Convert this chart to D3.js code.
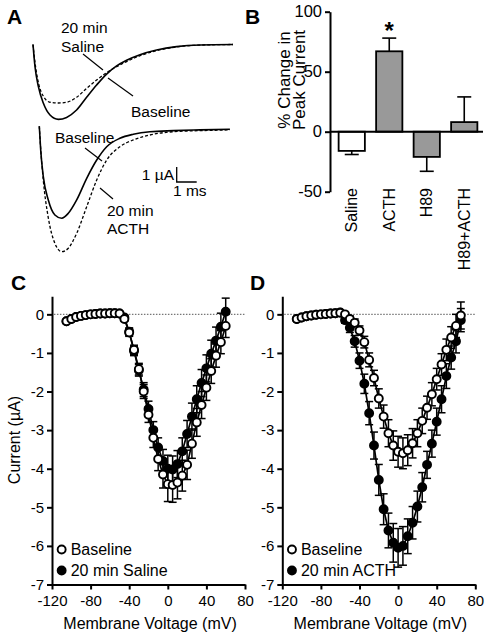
<!DOCTYPE html>
<html><head><meta charset="utf-8">
<script src="https://cdn.jsdelivr.net/npm/d3@7/dist/d3.min.js"></script>
<style>
html,body{margin:0;padding:0;background:#fff;}
svg{display:block;font-family:"Liberation Sans",Arial,Helvetica,sans-serif;}
</style></head>
<body>
<svg id="fig" width="491" height="637"></svg>
<script>
// ---------- Panel A: current traces (ms, µA) ----------
const tTop = [0, 0.1, 0.27, 0.52, 0.85, 1.27, 1.68, 2.18, 2.68, 3.18, 3.68, 4.18, 4.68, 5.35, 6.18, 7.18, 8.35, 10.0];
const topBaseline = [0, -1.48, -2.81, -3.92, -4.70, -4.99, -4.86, -4.37, -3.52, -2.70, -1.97, -1.43, -1.05, -0.68, -0.37, -0.14, -0.03, 0];
const topSaline = [0, -1.2, -2.55, -3.45, -3.85, -3.90, -3.85, -3.52, -2.92, -2.37, -1.88, -1.48, -1.14, -0.75, -0.41, -0.16, -0.04, 0];
const tBot = [0, 0.07, 0.2, 0.45, 0.78, 1.12, 1.45, 1.87, 2.37, 2.87, 3.37, 4.03, 4.7, 5.53, 6.7, 8.03, 9.53];
const botBaseline = [0.2, -1.38, -3.16, -4.71, -5.71, -5.93, -5.6, -4.71, -3.27, -2.05, -1.16, -0.6, -0.33, -0.16, -0.09, -0.04, 0];
const botACTH = [0.2, -1.3, -3.4, -5.9, -7.6, -8.16, -7.93, -6.93, -5.16, -3.38, -2.05, -1.16, -0.71, -0.38, -0.16, -0.09, -0.04];

// ---------- Panel B: % change in peak current ----------
const bCategories = ["Saline", "ACTH", "H89", "H89+ACTH"];
const bValues = [-16, 67, -21, 8];
const bErrors = [3, 11, 12, 21];
const bFills = ["#ffffff", "#999999", "#999999", "#999999"];
const bTicks = [-50, 0, 50, 100];

// ---------- Panel C: I-V, saline ----------
const voltsC = [-105,-100,-95,-90,-85,-80,-75,-70,-65,-60,-55,-50,-45,-40,-35,-30,-25,-20,-15,-10,-5,0,5,10,15,20,25,30,35,40,45,50,55,60];
const cBaseline = [-0.18,-0.12,-0.07,-0.04,-0.02,0.00,0.01,0.02,0.02,0.03,0.03,0.02,
  -0.12,-0.47,-0.92,-1.42,-2.00,-2.60,-3.20,-3.75,-4.15,-4.40,-4.42,-4.36,-4.18,-3.90,-3.35,-2.80,-2.35,-1.90,-1.47,-1.07,-0.72,-0.30];
const cBaselineErr = [0.02,0.02,0.02,0.02,0.02,0.02,0.02,0.02,0.02,0.02,0.02,0.02,
  0.06,0.1,0.12,0.15,0.18,0.2,0.25,0.3,0.35,0.45,0.45,0.42,0.4,0.38,0.38,0.36,0.35,0.33,0.32,0.3,0.3,0.3];
const cSaline = [-0.18,-0.12,-0.07,-0.04,-0.02,0.00,0.01,0.02,0.02,0.03,0.03,0.02,
  -0.08,-0.45,-0.95,-1.45,-1.95,-2.45,-3.00,-3.45,-3.80,-4.00,-4.02,-3.88,-3.55,-3.10,-2.65,-2.20,-1.78,-1.40,-1.02,-0.68,-0.32,0.07];
const cSalineErr = [0.02,0.02,0.02,0.02,0.02,0.02,0.02,0.02,0.02,0.02,0.02,0.02,
  0.06,0.1,0.12,0.15,0.18,0.2,0.22,0.25,0.3,0.35,0.35,0.35,0.35,0.35,0.35,0.35,0.35,0.35,0.35,0.35,0.35,0.35];

// ---------- Panel D: I-V, ACTH ----------
const voltsD = [-105,-100,-95,-90,-85,-80,-75,-70,-65,-60,-55,-50,-45,-40,-35,-30,-25,-20,-15,-10,-5,0,5,10,15,20,25,30,35,40,45,50,55,60,65];
const dBaseline = [-0.12,-0.08,-0.05,-0.03,-0.01,0.00,0.01,0.02,0.03,0.04,
  0.00,-0.12,-0.22,-0.42,-0.72,-1.18,-1.65,-2.18,-2.65,-3.08,-3.40,-3.56,-3.60,-3.52,-3.34,-3.08,-2.76,-2.42,-2.07,-1.68,-1.30,-0.92,-0.60,-0.30,-0.03];
const dBaselineErr = [0.02,0.02,0.02,0.02,0.02,0.02,0.02,0.02,0.02,0.02,
  0.04,0.08,0.1,0.12,0.15,0.18,0.2,0.25,0.3,0.35,0.38,0.4,0.4,0.4,0.38,0.35,0.33,0.3,0.3,0.28,0.28,0.28,0.28,0.3,0.35];
const dACTH = [-0.12,-0.08,-0.05,-0.03,-0.01,0.00,0.01,0.02,0.03,0.05,
  -0.15,-0.35,-0.70,-1.20,-1.80,-2.56,-3.40,-4.29,-5.05,-5.60,-5.92,-6.05,-6.00,-5.75,-5.40,-4.98,-4.48,-3.90,-3.35,-2.78,-2.20,-1.60,-1.12,-0.70,-0.15];
const dACTHErr = [0.02,0.02,0.02,0.02,0.02,0.02,0.02,0.02,0.02,0.02,
  0.08,0.12,0.15,0.2,0.25,0.3,0.35,0.4,0.4,0.45,0.5,0.5,0.5,0.45,0.42,0.4,0.38,0.35,0.35,0.35,0.35,0.32,0.3,0.3,0.3];

const ivXTicks = [-120, -80, -40, 0, 40, 80];
const ivYTicks = [-7, -6, -5, -4, -3, -2, -1, 0];

// ================= drawing =================
const svg = d3.select("#fig");
svg.append("rect").attr("width", 491).attr("height", 637).attr("fill", "#fff");
const FONT = '"Liberation Sans",Arial,Helvetica,sans-serif';

function panelLetter(t, x, y) {
  svg.append("text").attr("x", x).attr("y", y).text(t)
    .attr("font-size", 21).attr("font-weight", "bold").attr("fill", "#000");
}
panelLetter("A", 7, 24);
panelLetter("B", 245, 24);
panelLetter("C", 11, 290);
panelLetter("D", 250, 290);

// ---------- Panel A ----------
(function () {
  const g = svg.append("g");
  const xT = d3.scaleLinear().domain([0, 10]).range([33, 233]);
  const yT = d3.scaleLinear().domain([-5, 0]).range([119.5, 44.5]);
  const xB = d3.scaleLinear().domain([0, 10]).range([39.3, 239.3]);
  const yB = d3.scaleLinear().domain([-8, 0]).range([249.3, 129.3]);
  const mk = (xs, ys, tArr, iArr) => d3.line().curve(d3.curveMonotoneX)
    .x((d, i) => xs(tArr[i])).y(d => ys(d))(iArr);

  g.append("path").attr("d", mk(xT, yT, tTop, topBaseline)).attr("fill", "none")
    .attr("stroke", "#000").attr("stroke-width", 1.6);
  g.append("path").attr("d", mk(xT, yT, tTop, topSaline)).attr("fill", "none")
    .attr("stroke", "#000").attr("stroke-width", 1.3).attr("stroke-dasharray", "3,2");
  g.append("path").attr("d", mk(xB, yB, tBot, botBaseline)).attr("fill", "none")
    .attr("stroke", "#000").attr("stroke-width", 1.6);
  g.append("path").attr("d", mk(xB, yB, tBot, botACTH)).attr("fill", "none")
    .attr("stroke", "#000").attr("stroke-width", 1.3).attr("stroke-dasharray", "3,2");

  const lab = (t, x, y) => g.append("text").attr("x", x).attr("y", y).text(t)
    .attr("font-size", 15.5).attr("fill", "#000");
  lab("20 min", 61, 33); lab("Saline", 61, 52);
  lab("Baseline", 131, 117);
  lab("Baseline", 55, 143);
  lab("20 min", 107, 216); lab("ACTH", 107, 234);
  const ld = (x1, y1, x2, y2) => g.append("line").attr("x1", x1).attr("y1", y1)
    .attr("x2", x2).attr("y2", y2).attr("stroke", "#000").attr("stroke-width", 1.2);
  ld(83, 54, 103, 70);
  ld(108, 78, 133, 96);
  ld(85, 148, 102, 161);
  ld(100, 188, 113, 199);
  const sx = 176.7, sy = 182;
  g.append("polyline")
    .attr("points", `${sx},${sy - (yB(-1) - yB(0))} ${sx},${sy} ${sx + (xB(1) - xB(0))},${sy}`)
    .attr("fill", "none").attr("stroke", "#000").attr("stroke-width", 1.3);
  g.append("text").attr("x", 174).attr("y", 180).attr("text-anchor", "end")
    .attr("font-size", 15.5).text("1 \u00b5A");
  g.append("text").attr("x", 173).attr("y", 196)
    .attr("font-size", 15.5).text("1 ms");
})();

// ---------- Panel B ----------
(function () {
  const g = svg.append("g");
  const y = d3.scaleLinear().domain([-50, 100]).range([191.7, 11.7]);
  const x = d3.scaleBand().domain(bCategories).range([333, 483]).paddingInner(0.3).paddingOuter(0.15);
  const axisX = 330;
  bCategories.forEach((c, i) => {
    const v = bValues[i], e = bErrors[i];
    const cx = x(c) + x.bandwidth() / 2;
    const yEnd = y(v + Math.sign(v) * e);
    g.append("line").attr("x1", cx).attr("x2", cx).attr("y1", y(v)).attr("y2", yEnd)
      .attr("stroke", "#000").attr("stroke-width", 1.6);
    g.append("line").attr("x1", cx - 7).attr("x2", cx + 7).attr("y1", yEnd).attr("y2", yEnd)
      .attr("stroke", "#000").attr("stroke-width", 1.6);
    g.append("rect").attr("x", x(c)).attr("width", x.bandwidth())
      .attr("y", Math.min(y(v), y(0))).attr("height", Math.abs(y(v) - y(0)))
      .attr("fill", bFills[i]).attr("stroke", "#000").attr("stroke-width", 1.8);
  });
  g.append("line").attr("x1", axisX).attr("x2", 483).attr("y1", y(0)).attr("y2", y(0))
    .attr("stroke", "#000").attr("stroke-width", 2);
  const ax = g.append("g").attr("transform", `translate(${axisX},0)`)
    .call(d3.axisLeft(y).tickValues(bTicks).tickFormat(d => String(d)).tickSize(5).tickSizeOuter(0).tickPadding(3));
  ax.select(".domain").attr("stroke-width", 2);
  ax.selectAll(".tick line").attr("stroke-width", 2);
  ax.selectAll("text").attr("font-size", 16.5).attr("font-family", FONT).attr("fill", "#000");
  g.append("text").attr("transform", "translate(290,80) rotate(-90)").attr("text-anchor", "middle")
    .attr("font-size", 17).text("% Change in");
  g.append("text").attr("transform", "translate(305,80) rotate(-90)").attr("text-anchor", "middle")
    .attr("font-size", 17).text("Peak Current");
  bCategories.forEach(c => {
    const cx = x(c) + x.bandwidth() / 2;
    g.append("text").attr("transform", `translate(${cx + 5.5},188) rotate(-90)`)
      .attr("text-anchor", "end").attr("font-size", 16).text(c);
  });
  g.append("text").attr("x", x("ACTH") + x.bandwidth() / 2).attr("y", 39)
    .attr("text-anchor", "middle").attr("font-size", 24).attr("font-weight", "bold").text("*");
})();

// ---------- I-V panels ----------
function ivPanel(opts) {
  const g = svg.append("g");
  const x = d3.scaleLinear().domain([-120, 80]).range([opts.left, opts.left + 193]);
  const y = d3.scaleLinear().domain([-7, 0.47]).range([584.5, 296.2]);
  g.append("line").attr("x1", x(-118)).attr("x2", x(80)).attr("y1", y(0)).attr("y2", y(0))
    .attr("stroke", "#777").attr("stroke-width", 1.2).attr("stroke-dasharray", "1.5,1.5");
  const ay = g.append("g").attr("transform", `translate(${opts.left},0)`)
    .call(d3.axisLeft(y).tickValues(ivYTicks).tickFormat(d => String(d)).tickSize(5).tickSizeOuter(0).tickPadding(3));
  const axx = g.append("g").attr("transform", `translate(0,${y(-7)})`)
    .call(d3.axisBottom(x).tickValues(ivXTicks).tickFormat(d => String(d)).tickSize(5).tickSizeOuter(0).tickPadding(6));
  [ay, axx].forEach(a => {
    a.select(".domain").attr("stroke-width", 2);
    a.selectAll(".tick line").attr("stroke-width", 2);
    a.selectAll("text").attr("font-size", 15).attr("font-family", FONT).attr("fill", "#000");
  });
  g.append("text").attr("x", opts.left + 98).attr("y", 629).attr("text-anchor", "middle")
    .attr("font-size", 16).text("Membrane Voltage (mV)");

  const series = [
    { v: opts.volts, y: opts.treat, e: opts.treatErr, filled: true },
    { v: opts.volts, y: opts.base, e: opts.baseErr, filled: false }
  ];
  series.forEach(s => {
    const pts = s.v.map((v, i) => ({ v, i: s.y[i], e: s.e[i] }));
    g.append("path").datum(pts)
      .attr("d", d3.line().x(d => x(d.v)).y(d => y(d.i)))
      .attr("fill", "none").attr("stroke", "#000").attr("stroke-width", 1.7);
    const eb = g.append("g");
    pts.forEach(d => {
      const y1 = y(d.i + d.e), y2 = y(d.i - d.e), cx = x(d.v);
      eb.append("line").attr("x1", cx).attr("x2", cx).attr("y1", y1).attr("y2", y2)
        .attr("stroke", "#000").attr("stroke-width", 1.5);
      [y1, y2].forEach(yy => eb.append("line").attr("x1", cx - 4).attr("x2", cx + 4)
        .attr("y1", yy).attr("y2", yy).attr("stroke", "#000").attr("stroke-width", 1.5));
    });
    g.append("g").selectAll("circle").data(pts).join("circle")
      .attr("cx", d => x(d.v)).attr("cy", d => y(d.i)).attr("r", 4)
      .attr("fill", s.filled ? "#000" : "#fff").attr("stroke", "#000").attr("stroke-width", 1.9);
  });
  const lx = x(-110), ly1 = 549.5, ly2 = 570.5;
  g.append("circle").attr("cx", lx).attr("cy", ly1).attr("r", 4).attr("fill", "#fff")
    .attr("stroke", "#000").attr("stroke-width", 1.9);
  g.append("circle").attr("cx", lx).attr("cy", ly2).attr("r", 4).attr("fill", "#000")
    .attr("stroke", "#000").attr("stroke-width", 1.9);
  g.append("text").attr("x", lx + 9).attr("y", ly1 + 5.5).attr("font-size", 16).text("Baseline");
  g.append("text").attr("x", lx + 9).attr("y", ly2 + 5.5).attr("font-size", 16).text(opts.legend);
  return g;
}

ivPanel({ left: 52, volts: voltsC, base: cBaseline, baseErr: cBaselineErr, treat: cSaline, treatErr: cSalineErr, legend: "20 min Saline" });
ivPanel({ left: 282.3, volts: voltsD, base: dBaseline, baseErr: dBaselineErr, treat: dACTH, treatErr: dACTHErr, legend: "20 min ACTH" });

svg.append("text").attr("transform", "translate(20,440) rotate(-90)").attr("text-anchor", "middle")
  .attr("font-size", 16).text("Current (\u00b5A)");
</script>
</body></html>
